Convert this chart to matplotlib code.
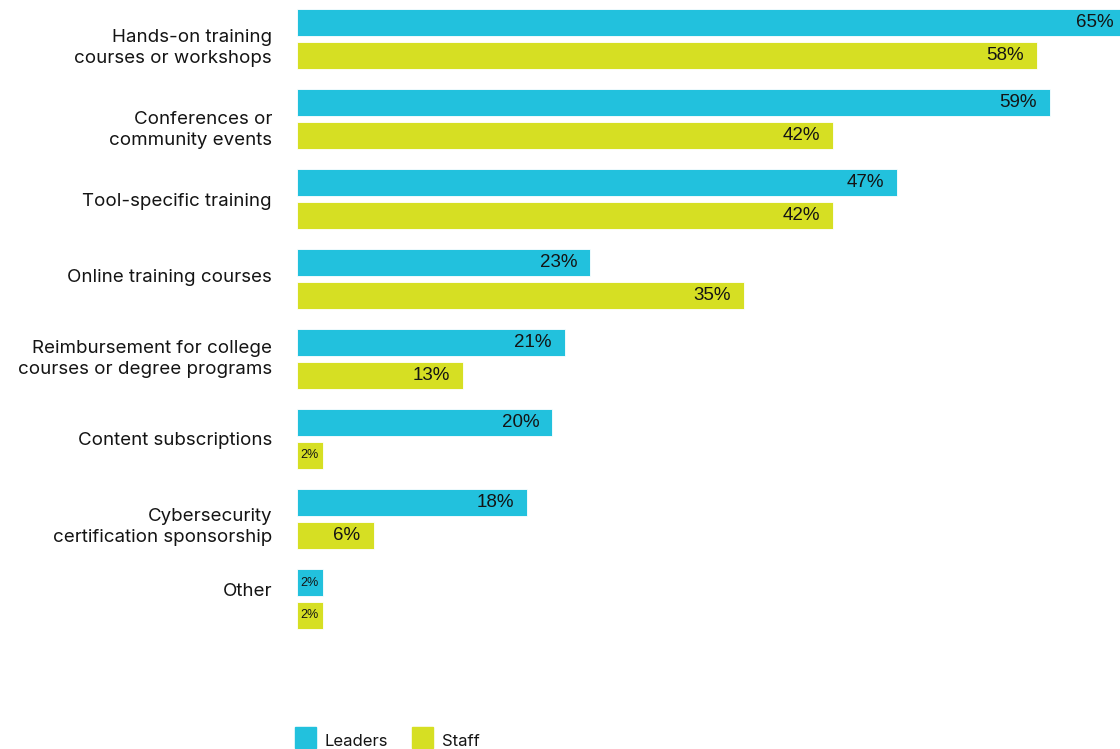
import matplotlib
matplotlib.use("Agg")
import matplotlib.pyplot as plt
from matplotlib.patches import Rectangle

categories = [
    "Hands-on training\ncourses or workshops",
    "Conferences or\ncommunity events",
    "Tool-specific training",
    "Online training courses",
    "Reimbursement for college\ncourses or degree programs",
    "Content subscriptions",
    "Cybersecurity\ncertification sponsorship",
    "Other",
]
leaders = [65, 59, 47, 23, 21, 20, 18, 2]
staff = [58, 42, 42, 35, 13, 2, 6, 2]
series_names = ["Leaders", "Staff"]

LEADERS_COLOR = "#22C1DD"
STAFF_COLOR = "#D6DF23"
TEXT_COLOR = "#141414"
LABEL_FONT = ["Inter", "DejaVu Sans"]
VALUE_FONT = ["Liberation Sans", "DejaVu Sans"]

W, H, DPI = 1120, 749, 100
fig = plt.figure(figsize=(W / DPI, H / DPI), dpi=DPI)

ax_left, ax_right = 297, 1120
ax_top, ax_bottom = 0, 640
ax = fig.add_axes([ax_left / W, 1 - ax_bottom / H,
                   (ax_right - ax_left) / W, (ax_bottom - ax_top) / H])

n = len(categories)
offset = 16.5 / 80
bar_h = 27 / 80
ax.set_xlim(0, 64.5)
ax.set_ylim(7 + 41 / 80, -39 / 80)
ax.axis("off")

px_per_unit = (ax_right - ax_left) / 64.5


def draw_series(values, shift, color):
    ys = [i + shift for i in range(n)]
    bars = ax.barh(ys, values, height=bar_h, color=color, edgecolor="white",
                   linewidth=0.6, clip_on=True)
    for y, v in zip(ys, values):
        if v <= 2:
            ax.text(v / 2, y, f"{v}%", ha="center", va="center",
                    fontsize=9, color=TEXT_COLOR, family=VALUE_FONT)
        else:
            ax.text(v - 13 / px_per_unit, y, f"{v}%", ha="right", va="center",
                    fontsize=13.5, color=TEXT_COLOR, family=VALUE_FONT,
                    clip_on=False)
    return bars


draw_series(leaders, -offset, LEADERS_COLOR)
draw_series(staff, offset, STAFF_COLOR)

# Category labels, right-aligned against the bars (vertical centres in px)
label_centres = [48, 130, 201, 278, 359, 440, 527, 592]
for cat, y_px in zip(categories, label_centres):
    fig.text(272 / W, 1 - y_px / H, cat, ha="right", va="center",
             fontsize=13.5, color=TEXT_COLOR, family=LABEL_FONT,
             linespacing=1.32)

# Legend along the bottom edge
legend_items = [(295, 325, LEADERS_COLOR, series_names[0]),
                (412, 442, STAFF_COLOR, series_names[1])]
for sx, tx, col, name in legend_items:
    fig.patches.append(Rectangle((sx / W, 1 - 748 / H), 21 / W, 21 / H,
                                 transform=fig.transFigure, color=col))
    fig.text(tx / W, 1 - 741 / H, name, ha="left", va="center",
             fontsize=12, color=TEXT_COLOR, family=LABEL_FONT)

fig.savefig("out.png", dpi=DPI, facecolor="white")
